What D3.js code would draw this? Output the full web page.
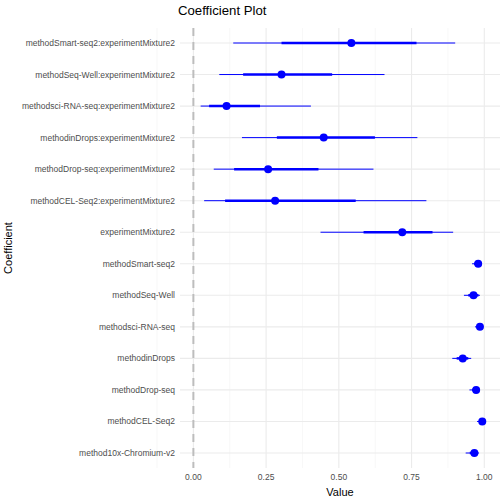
<!DOCTYPE html>
<html><head><meta charset="utf-8">
<script src="https://cdn.jsdelivr.net/npm/d3@7"></script>
<style>body{margin:0;background:#fff;font-family:"Liberation Sans",Arial,sans-serif}</style>
</head><body><svg id="c" width="504" height="504"></svg>
<script>
const coefs = ["methodSmart-seq2:experimentMixture2","methodSeq-Well:experimentMixture2","methodsci-RNA-seq:experimentMixture2","methodinDrops:experimentMixture2","methodDrop-seq:experimentMixture2","methodCEL-Seq2:experimentMixture2","experimentMixture2","methodSmart-seq2","methodSeq-Well","methodsci-RNA-seq","methodinDrops","methodDrop-seq","methodCEL-Seq2","method10x-Chromium-v2"];
const estimate = [0.543,0.303,0.114,0.448,0.257,0.281,0.718,0.979,0.963,0.985,0.926,0.972,0.993,0.966];
const innerLo = [0.303,0.171,0.054,0.287,0.140,0.109,0.585,0.965,0.945,0.975,0.905,0.958,0.982,0.950];
const innerHi = [0.767,0.477,0.229,0.624,0.430,0.558,0.822,0.985,0.980,0.993,0.945,0.982,0.998,0.978];
const outerLo = [0.137,0.089,0.025,0.167,0.070,0.037,0.437,0.958,0.930,0.968,0.890,0.949,0.975,0.936];
const outerHi = [0.900,0.657,0.404,0.770,0.619,0.801,0.893,0.988,0.985,0.997,0.955,0.985,1.000,0.982];
const xTicks = [0,0.25,0.5,0.75,1];

const svg = d3.select("#c");
const L = 180, R = 500, T = 28, B = 468;
const x = d3.scaleLinear().domain([-0.046,1.054]).range([L,R]);
const y = d3.scalePoint().domain(coefs).range([T+15,B-15]);
const g = svg.append("g");
// grid
g.selectAll(".minor").data(d3.range(-0.125,1.1,0.25)).join("line")
 .attr("x1",d=>x(d)).attr("x2",d=>x(d)).attr("y1",T).attr("y2",B).attr("stroke","#f2f2f2").attr("stroke-width",0.6);
g.selectAll(".major").data(xTicks).join("line")
 .attr("x1",d=>x(d)).attr("x2",d=>x(d)).attr("y1",T).attr("y2",B).attr("stroke","#ebebeb").attr("stroke-width",1.1);
g.selectAll(".hg").data(coefs).join("line")
 .attr("x1",L).attr("x2",R).attr("y1",d=>y(d)).attr("y2",d=>y(d)).attr("stroke","#ebebeb").attr("stroke-width",1.1);
// zero line
g.append("line").attr("x1",x(0)).attr("x2",x(0)).attr("y1",T).attr("y2",B)
 .attr("stroke","#bdbdbd").attr("stroke-width",2).attr("stroke-dasharray","8,6");
// intervals
coefs.forEach((c,i)=>{
  g.append("line").attr("x1",x(outerLo[i])).attr("x2",x(outerHi[i])).attr("y1",y(c)).attr("y2",y(c))
   .attr("stroke","#0000ff").attr("stroke-width",1);
  g.append("line").attr("x1",x(innerLo[i])).attr("x2",x(innerHi[i])).attr("y1",y(c)).attr("y2",y(c))
   .attr("stroke","#0000ff").attr("stroke-width",2.5);
  g.append("circle").attr("cx",x(estimate[i])).attr("cy",y(c)).attr("r",4).attr("fill","#0000ff");
});
// axes text
svg.selectAll(".yl").data(coefs).join("text").attr("x",L-5).attr("y",d=>y(d)+3)
 .attr("text-anchor","end").attr("font-size",8.5).attr("fill","#4d4d4d").text(d=>d);
svg.selectAll(".xl").data(xTicks).join("text").attr("x",d=>x(d)).attr("y",B+12)
 .attr("text-anchor","middle").attr("font-size",8.5).attr("fill","#4d4d4d").text(d=>d3.format(".2f")(d));
svg.append("text").attr("x",(L+R)/2).attr("y",496).attr("text-anchor","middle").attr("font-size",11).text("Value");
svg.append("text").attr("transform",`translate(12,${(T+B)/2}) rotate(-90)`).attr("text-anchor","middle").attr("font-size",11).text("Coefficient");
svg.append("text").attr("x",L-2).attr("y",15).attr("font-size",13.2).text("Coefficient Plot");
</script></body></html>
